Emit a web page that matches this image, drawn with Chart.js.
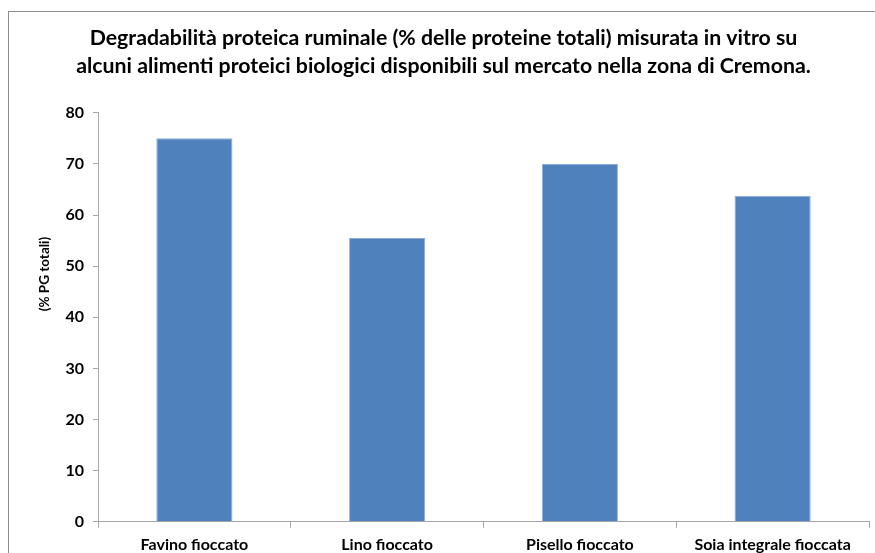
<!DOCTYPE html>
<html>
<head>
<meta charset="utf-8">
<script src="https://cdn.jsdelivr.net/npm/chart.js@4"></script>
<style>
  html, body { margin: 0; padding: 0; background: #fff; }
  #wrap { position: relative; width: 875px; height: 553px; overflow: hidden; }
  #frame { position: absolute; left: 8px; top: 11px; width: 900px; height: 600px;
           border-left: 1px solid #8c8c8c; border-top: 1px solid #8c8c8c; }
  #chart { position: absolute; left: 0; top: 0; }
</style>
</head>
<body>
<div id="wrap">
  <div id="frame"></div>
  <canvas id="chart" width="875" height="553"></canvas>
</div>
<script>
// chart data
const categories = ["Favino fioccato", "Lino fioccato", "Pisello fioccato", "Soia integrale fioccata"];
const degradabilita = [75, 55.5, 70, 63.8];
const yTicks = [0, 10, 20, 30, 40, 50, 60, 70, 80];

const titleLines = [
    "Degradabilità proteica ruminale (% delle proteine totali) misurata in vitro su",
    "alcuni alimenti proteici biologici disponibili sul mercato nella zona di Cremona."
];
const yAxisLabel = "(% PG totali)";

const fontFamily = "Lato, 'Open Sans', sans-serif";

// draws the rotated y axis label a bit above the middle, as in the original
const yLabelPlugin = {
    id: "yLabel",
    afterDraw(chart) {
        let ctx = chart.ctx;
        ctx.save();
        ctx.translate(45, 274);
        ctx.rotate(-Math.PI / 2);
        ctx.font = "bold 13.5px " + fontFamily;
        ctx.fillStyle = "#000";
        ctx.textAlign = "center";
        ctx.textBaseline = "middle";
        ctx.fillText(yAxisLabel, 0, 0);
        ctx.restore();
    }
};

let ctx = document.getElementById("chart").getContext("2d");

new Chart(ctx, {
    type: "bar",
    data: {
        labels: categories,
        datasets: [{
            data: degradabilita,
            backgroundColor: "#4f81bd",
            borderColor: "#8cacd6",
            borderWidth: 1,
            barPercentage: 0.395,
            categoryPercentage: 1
        }]
    },
    options: {
        responsive: false,
        animation: false,
        // labels sit right at the lower edge, as in the original picture
        layout: { padding: { left: 18, right: 6, top: 0, bottom: -8 } },
        plugins: {
            legend: { display: false },
            tooltip: { enabled: false },
            title: {
                display: true,
                text: titleLines,
                color: "#000",
                font: { family: fontFamily, size: 21.3, weight: "bold", lineHeight: 1.31 },
                padding: { top: 24, bottom: 33 }
            }
        },
        scales: {
            x: {
                grid: { drawOnChartArea: false, drawTicks: true, tickLength: 6, color: "#a6a6a6" },
                border: { color: "#a6a6a6" },
                ticks: { color: "#000", padding: 7, maxRotation: 0,
                         font: { family: fontFamily, size: 16, weight: "bold" } }
            },
            y: {
                min: 0,
                max: 80,
                afterFit(scale) { scale.width = 80; },
                afterBuildTicks(scale) { scale.ticks = yTicks.map(v => ({ value: v })); },
                grid: { drawOnChartArea: false, drawTicks: true, tickLength: 5, color: "#a6a6a6" },
                border: { color: "#a6a6a6" },
                ticks: { color: "#000", padding: 9,
                         font: { family: fontFamily, size: 16, weight: "bold" } }
            }
        }
    },
    plugins: [yLabelPlugin]
});
</script>
</body>
</html>
